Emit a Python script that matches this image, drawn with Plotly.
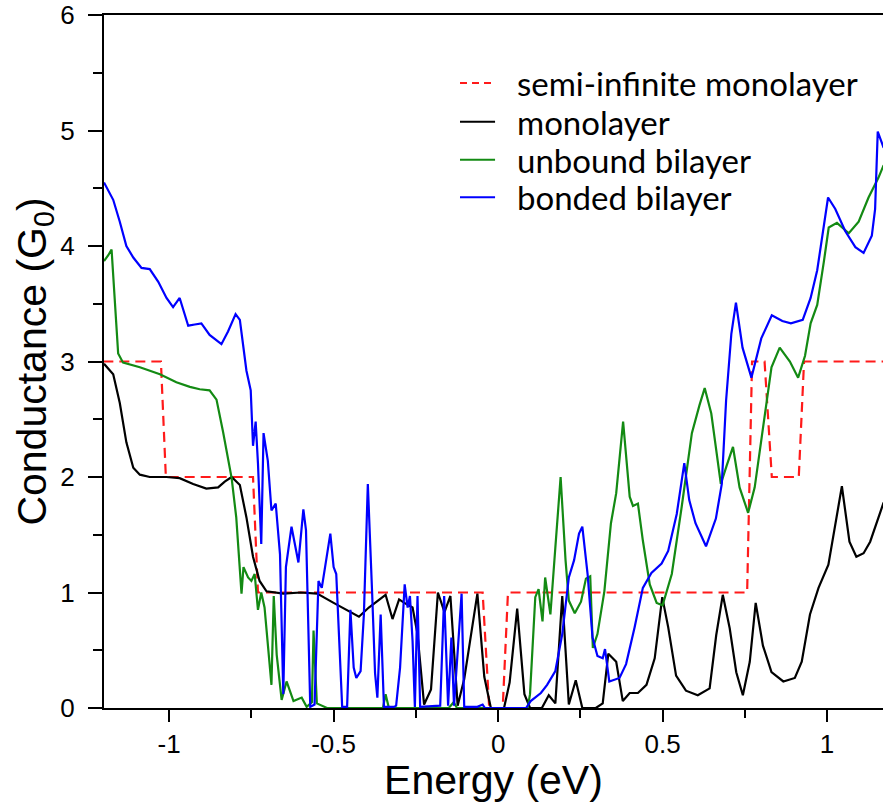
import plotly.graph_objects as go

# ---- data ----
semi_x = [-1.2, -1.025, -1.01, -0.745, -0.73, -0.047, -0.027, 0.014, 0.03, 0.757, 0.772, 0.81, 0.832, 0.914, 0.93, 1.17]
semi_y = [3, 3, 2, 2, 1, 1, 0, 0, 1, 1, 3, 3, 2, 2, 3, 3]

mono_x = [-1.198, -1.17, -1.15, -1.13, -1.109, -1.089, -1.059, -1.008, -0.968, -0.927, -0.887, -0.851, -0.831,
          -0.81, -0.785, -0.765, -0.745, -0.725, -0.704, -0.653, -0.60, -0.55, -0.50, -0.449, -0.423, -0.393,
          -0.367, -0.342, -0.321, -0.301, -0.285, -0.26, -0.245, -0.225, -0.204, -0.183, -0.163, -0.145, -0.123,
          -0.103, -0.082, -0.063, -0.042, -0.022, 0.018, 0.035, 0.058, 0.08, 0.097, 0.133, 0.154, 0.174, 0.195,
          0.215, 0.236, 0.256, 0.297, 0.318, 0.335, 0.359, 0.379, 0.40, 0.425, 0.451, 0.476, 0.499, 0.517, 0.541,
          0.571, 0.607, 0.643, 0.663, 0.683, 0.704, 0.724, 0.744, 0.765, 0.783, 0.805, 0.831, 0.867, 0.902, 0.923,
          0.948, 0.974, 1.004, 1.045, 1.068, 1.089, 1.111, 1.131, 1.152, 1.172]
mono_y = [2.98, 2.89, 2.64, 2.30, 2.08, 2.02, 2.00, 2.00, 1.99, 1.94, 1.90, 1.91, 1.96,
          2.00, 1.93, 1.65, 1.31, 1.10, 1.01, 0.99, 1.00, 0.99, 0.91, 0.83, 0.79, 0.87,
          0.93, 0.98, 0.77, 0.94, 0.91, 0.87, 0.64, 0.03, 0.16, 1.00, 0.83, 0.97, 0.02,
          0.25, 0.64, 0.99, 0.27, 0.00, 0.00, 0.22, 0.86, 0.12, 0.00, 0.00, 0.11, 0.04, 0.97,
          0.03, 0.24, 0.00, 0.00, 0.04, 0.47, 0.40, 0.06, 0.13, 0.13, 0.20, 0.43, 0.96, 0.70, 0.28,
          0.15, 0.11, 0.17, 0.63, 0.98, 0.69, 0.31, 0.11, 0.40, 0.91, 0.54, 0.31, 0.23, 0.26, 0.40,
          0.81, 1.04, 1.24, 1.92, 1.44, 1.31, 1.34, 1.44, 1.62, 1.78]

unb_x = [-1.198, -1.185, -1.175, -1.165, -1.155, -1.14, -1.089, -1.028, -0.978, -0.937, -0.907, -0.877, -0.856,
         -0.836, -0.81, -0.796, -0.78, -0.774, -0.76, -0.75, -0.74, -0.73, -0.72, -0.71, -0.70, -0.689, -0.682,
         -0.673, -0.658, -0.643, -0.622, -0.597, -0.582, -0.566, -0.561, -0.551, -0.52, -0.40, -0.35, -0.342,
         -0.332, -0.15, -0.135, -0.125, 0.09, 0.097, 0.113, 0.123, 0.135, 0.143, 0.159, 0.174, 0.19, 0.205, 0.215,
         0.233, 0.252, 0.267, 0.28, 0.288, 0.302, 0.323, 0.343, 0.359, 0.38, 0.40, 0.41, 0.425, 0.44, 0.461,
         0.482, 0.50, 0.528, 0.558, 0.589, 0.612, 0.628, 0.648, 0.677, 0.695, 0.714, 0.734, 0.76, 0.78, 0.805,
         0.831, 0.856, 0.887, 0.912, 0.933, 0.95, 0.97, 0.99, 1.005, 1.03, 1.066, 1.096, 1.126, 1.156, 1.172]
unb_y = [3.87, 3.92, 3.97, 3.50, 3.07, 2.99, 2.95, 2.89, 2.82, 2.78, 2.76, 2.75, 2.67,
         2.39, 1.99, 1.65, 0.99, 1.22, 1.13, 1.10, 1.16, 0.85, 1.00, 0.87, 0.55, 0.20, 0.97,
         0.46, 0.07, 0.23, 0.06, 0.09, 0.01, 0.05, 0.67, 0.04, 0.00, 0.00, 0.00, 0.12,
         0.00, 0.00, 0.05, 0.00, 0.00, 0.12, 0.96, 1.03, 0.75, 1.13, 0.81, 1.39, 2.00, 1.28, 0.93,
         0.82, 0.92, 1.12, 1.14, 0.52, 0.64, 1.01, 1.60, 1.86, 2.48, 1.83, 1.75, 1.77, 1.45, 1.07,
         0.91, 0.89, 1.16, 1.74, 2.38, 2.62, 2.77, 2.55, 1.94, 2.10, 2.26, 1.91, 1.69, 1.91, 2.43,
         2.95, 3.12, 3.00, 2.86, 3.05, 3.33, 3.49, 3.86, 4.16, 4.20, 4.11, 4.21, 4.42, 4.59, 4.70]

bond_x = [-1.198, -1.17, -1.15, -1.13, -1.109, -1.084, -1.059, -1.033, -1.008, -0.988, -0.968, -0.957, -0.942,
          -0.922, -0.902, -0.877, -0.841, -0.821, -0.798, -0.785, -0.765, -0.752, -0.745, -0.737, -0.73, -0.72,
          -0.713, -0.70, -0.689, -0.676, -0.663, -0.653, -0.645, -0.628, -0.607, -0.592, -0.584, -0.571, -0.558,
          -0.546, -0.536, -0.526, -0.51, -0.50, -0.492, -0.474, -0.459, -0.449, -0.439, -0.431, -0.418, -0.408,
          -0.396, -0.383, -0.374, -0.367, -0.357, -0.347, -0.316, -0.31, -0.298, -0.284, -0.275, -0.268, -0.26,
          -0.253, -0.245, -0.237, -0.176, -0.164, -0.152, -0.142, -0.134, -0.111, -0.103, -0.063, -0.047, -0.04,
          0.085, 0.099, 0.13, 0.149, 0.174, 0.195, 0.215, 0.231, 0.246, 0.256, 0.272, 0.287, 0.302, 0.318, 0.325,
          0.338, 0.369, 0.389, 0.415, 0.44, 0.466, 0.497, 0.517, 0.543, 0.566, 0.581, 0.60, 0.632, 0.662, 0.68,
          0.693, 0.709, 0.723, 0.743, 0.77, 0.80, 0.832, 0.864, 0.89, 0.926, 0.95, 0.97, 0.99, 1.003, 1.025,
          1.055, 1.086, 1.111, 1.136, 1.146, 1.154, 1.172]
bond_y = [4.55, 4.40, 4.21, 4.00, 3.90, 3.81, 3.80, 3.69, 3.55, 3.47, 3.55, 3.44, 3.31,
          3.32, 3.33, 3.23, 3.15, 3.26, 3.41, 3.36, 2.92, 2.75, 2.27, 2.48, 2.12, 1.42,
          2.38, 2.14, 1.71, 1.77, 1.33, 0.12, 1.22, 1.57, 1.26, 1.72, 1.54, 0.01, 0.03,
          1.10, 1.04, 1.22, 1.51, 1.22, 1.16, 0.01, 0.01, 0.85, 0.35, 0.26, 0.32, 0.81,
          1.94, 1.00, 0.30, 0.09, 0.81, 0.01, 0.01, 0.02, 0.35, 1.07, 0.87, 0.97, 0.58,
          0.01, 0.97, 0.01, 0.02, 0.97, 0.02, 0.61, 0.02, 0.99, 0.01, 0.01, 0.03, 0.00,
          0.00, 0.06, 0.13, 0.20, 0.32, 0.64, 1.13, 1.28, 1.51, 1.57, 1.16, 0.61, 0.45, 0.43, 0.51,
          0.23, 0.26, 0.38, 0.70, 1.04, 1.17, 1.25, 1.36, 1.68, 2.12, 1.80, 1.60, 1.40, 1.64, 1.94,
          2.66, 3.24, 3.51, 3.12, 2.86, 3.20, 3.40, 3.35, 3.33, 3.36, 3.55, 3.79, 4.16, 4.42, 4.32,
          4.13, 3.99, 3.94, 4.09, 4.32, 4.99, 4.85]

x_tickvals = [-1, -0.5, 0, 0.5, 1]
x_ticktext = ["-1", "-0.5", "0", "0.5", "1"]
y_tickvals = [0, 1, 2, 3, 4, 5, 6]

series_names = ["semi-infinite monolayer", "monolayer", "unbound bilayer", "bonded bilayer"]
series_colors = ["#ff1a1a", "black", "#138a13", "#0000ff"]
series_dash = ["10px,6px", "solid", "solid", "solid"]

fig = go.Figure()
for name, xs, ys, col, dsh in zip(series_names, [semi_x, mono_x, unb_x, bond_x],
                                  [semi_y, mono_y, unb_y, bond_y], series_colors, series_dash):
    fig.add_trace(go.Scatter(x=xs, y=ys, mode="lines", name=name, showlegend=False,
                             line=dict(color=col, width=2.2, dash=dsh)))

# legend drawn as line samples + text labels (paper coordinates of the plot area)
leg_x0, leg_x1, leg_tx = 0.457, 0.502, 0.527
leg_rows = [0.902, 0.846, 0.791, 0.737]
for name, col, yy, k in zip(series_names, series_colors, leg_rows, range(4)):
    fig.add_shape(type="line", xref="paper", yref="paper", x0=leg_x0, x1=leg_x1, y0=yy, y1=yy,
                  line=dict(color=col, width=2, dash="7px,5px" if k == 0 else "solid"))
    fig.add_annotation(x=leg_tx, y=yy, xref="paper", yref="paper", text=name, showarrow=False,
                       xanchor="left", yanchor="middle",
                       font=dict(family="Lato, Calibri, sans-serif", size=33, color="black"))

axis_font = dict(family="Liberation Sans, Arial, sans-serif", size=26, color="black")
title_font = dict(family="Liberation Sans, Arial, sans-serif", size=41, color="black")

fig.update_layout(
    width=883, height=803,
    margin=dict(l=104, r=0, t=15, b=95),
    paper_bgcolor="white", plot_bgcolor="white",
    showlegend=False,
    xaxis=dict(range=[-1.198, 1.170], showgrid=False, zeroline=False, automargin=False,
               showline=True, linecolor="black", linewidth=2, mirror=True,
               ticks="outside", ticklen=12, tickwidth=2, tickcolor="black",
               tickvals=x_tickvals, ticktext=x_ticktext, tickfont=axis_font,
               ticklabeloverflow="allow",
               minor=dict(dtick=0.25, tick0=0, ticks="outside", ticklen=8, tickwidth=2, tickcolor="black"),
               title=dict(text="Energy (eV)", font=title_font, standoff=0)),
    yaxis=dict(range=[0, 6], showgrid=False, zeroline=False, automargin=False,
               showline=True, linecolor="black", linewidth=2, mirror=False,
               ticks="outside", ticklen=14, tickwidth=2, tickcolor="black",
               tickvals=y_tickvals, tickfont=axis_font, ticklabelstandoff=8,
               ticklabeloverflow="allow",
               minor=dict(dtick=0.5, tick0=0, ticks="outside", ticklen=9, tickwidth=2, tickcolor="black"),
               title=dict(text="Conductance (G<sub>0</sub>)", font=title_font, standoff=0)),
)

# remove the browser's default 8px page margin so the figure sits at the window origin
fig.write_html("out.html", config={"displayModeBar": False},
               post_script="document.body.style.margin='0px';")
